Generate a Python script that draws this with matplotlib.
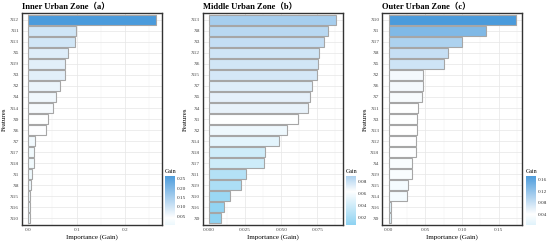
import numpy as np
import matplotlib
matplotlib.use("Agg")
import matplotlib.pyplot as plt
from matplotlib.colors import LinearSegmentedColormap
from matplotlib.ticker import MultipleLocator

# ---- data ----
titles = ["Inner Urban Zone（a）", "Middle Urban Zone（b）", "Outer Urban Zone（c）"]

feat_a = ["X12", "X11", "X13", "X5", "X19", "X3", "X2", "X4", "X14", "X9",
          "X6", "X7", "X17", "X18", "X1", "X8", "X15", "X16", "X10"]
gain_a = [0.264, 0.099, 0.097, 0.0815, 0.075, 0.076, 0.066, 0.0575, 0.052, 0.040,
          0.0356, 0.0144, 0.0123, 0.0123, 0.0068, 0.0055, 0.0034, 0.0030, 0.0030]

feat_b = ["X13", "X8", "X3", "X12", "X6", "X15", "X7", "X5", "X4", "X1",
          "X2", "X14", "X18", "X17", "X11", "X19", "X10", "X16", "X9"]
gain_b = [0.0881, 0.0826, 0.0794, 0.0761, 0.0757, 0.0748, 0.0716, 0.0697, 0.0688, 0.0619,
          0.0537, 0.0486, 0.0385, 0.0383, 0.0259, 0.0222, 0.0142, 0.0103, 0.0083]

feat_c = ["X10", "X1", "X17", "X8", "X5", "X2", "X6", "X7", "X11", "X3",
          "X13", "X12", "X18", "X4", "X19", "X15", "X14", "X16", "X9"]
gain_c = [0.1734, 0.1333, 0.0995, 0.0815, 0.0757, 0.0473, 0.0468, 0.0450, 0.0396, 0.0392,
          0.0383, 0.0374, 0.0369, 0.0324, 0.0320, 0.0261, 0.0257, 0.0032, 0.0027]

x_major = [0.1, 0.025, 0.05]
cbar_step = [0.05, 0.02, 0.04]

LOW, MID, HIGH = "#8FD3F2", "#FFFFFF", "#4A9BDC"
cmap = LinearSegmentedColormap.from_list("gain", [LOW, MID, HIGH])

SERIF = ["Liberation Serif", "Noto Sans CJK SC", "DejaVu Serif"]
plt.rcParams["font.family"] = SERIF

fig = plt.figure(figsize=(5.5, 2.42), dpi=100)

ax_lefts = [0.040, 0.3685, 0.695]
ax_w = 0.2545
ax_bottom, ax_h = 0.070, 0.876
cb_lefts = [0.300, 0.629, 0.956]


def mid_scale(vals):
    # gradient2-style: midpoint white, farther extreme reaches the end colour
    vals = np.asarray(vals)
    mid = np.median(vals)
    d = max(vals.max() - mid, mid - vals.min())
    return lambda v: cmap(0.5 + (np.asarray(v) - mid) / (2 * d))


def draw_panel(i, feats, gains):
    ax = fig.add_axes([ax_lefts[i], ax_bottom, ax_w, ax_h])
    n = len(feats)
    y = np.arange(n)[::-1]
    to_col = mid_scale(gains)
    ax.barh(y, gains, height=0.9, color=to_col(gains), edgecolor="#a6a6a6",
            linewidth=0.8, zorder=3)
    gmax = max(gains)
    ax.set_xlim(-0.05 * gmax, 1.05 * gmax)
    ax.set_ylim(-0.6, n - 0.4)
    ax.set_yticks(y)
    ax.set_yticklabels(feats)
    ax.xaxis.set_major_locator(MultipleLocator(x_major[i]))
    ax.xaxis.set_minor_locator(MultipleLocator(x_major[i] / 2))
    if i == 0:
        ax.xaxis.set_major_formatter(lambda v, p: f"{v:.1f}")
    elif i == 1:
        ax.xaxis.set_major_formatter(lambda v, p: f"{v:.3f}")
    else:
        ax.xaxis.set_major_formatter(lambda v, p: f"{v:.2f}")
    ax.grid(which="major", color="#e6e6e6", linewidth=0.5, zorder=0)
    ax.grid(which="minor", axis="x", color="#f0f0f0", linewidth=0.3, zorder=0)
    ax.tick_params(which="both", length=0, labelsize=3.8, labelcolor="#4d4d4d", pad=2)
    for s in ax.spines.values():
        s.set_color("#333333")
        s.set_linewidth(1.0)
    ax.set_xlabel("Importance (Gain)", fontsize=5, labelpad=2)
    ax.set_ylabel("Features", fontsize=5, labelpad=2)
    ax.set_title(titles[i], fontsize=6.1, fontweight="bold", loc="left", pad=3)

    # colour bar
    cax = fig.add_axes([cb_lefts[i], 0.070, 0.0164, 0.2025])
    lo, hi = min(gains), max(gains)
    grad = np.linspace(lo, hi, 200)
    cax.imshow(to_col(grad)[:, None, :], aspect="auto", origin="lower",
               extent=[0, 1, lo, hi])
    cax.set_xticks([])
    step = cbar_step[i]
    ticks = np.arange(step, hi, step)
    cax.set_yticks(ticks)
    cax.yaxis.tick_right()
    cax.yaxis.set_major_formatter(lambda v, p: f"{v:.2f}")
    cax.tick_params(length=0, labelsize=3.8, labelcolor="#333333", pad=2)
    for s in cax.spines.values():
        s.set_visible(False)
    cax.set_title("Gain", fontsize=4.2, loc="left", pad=2)


for i, (f, g) in enumerate([(feat_a, gain_a), (feat_b, gain_b), (feat_c, gain_c)]):
    draw_panel(i, f, g)

fig.savefig("out.png", dpi=100)
